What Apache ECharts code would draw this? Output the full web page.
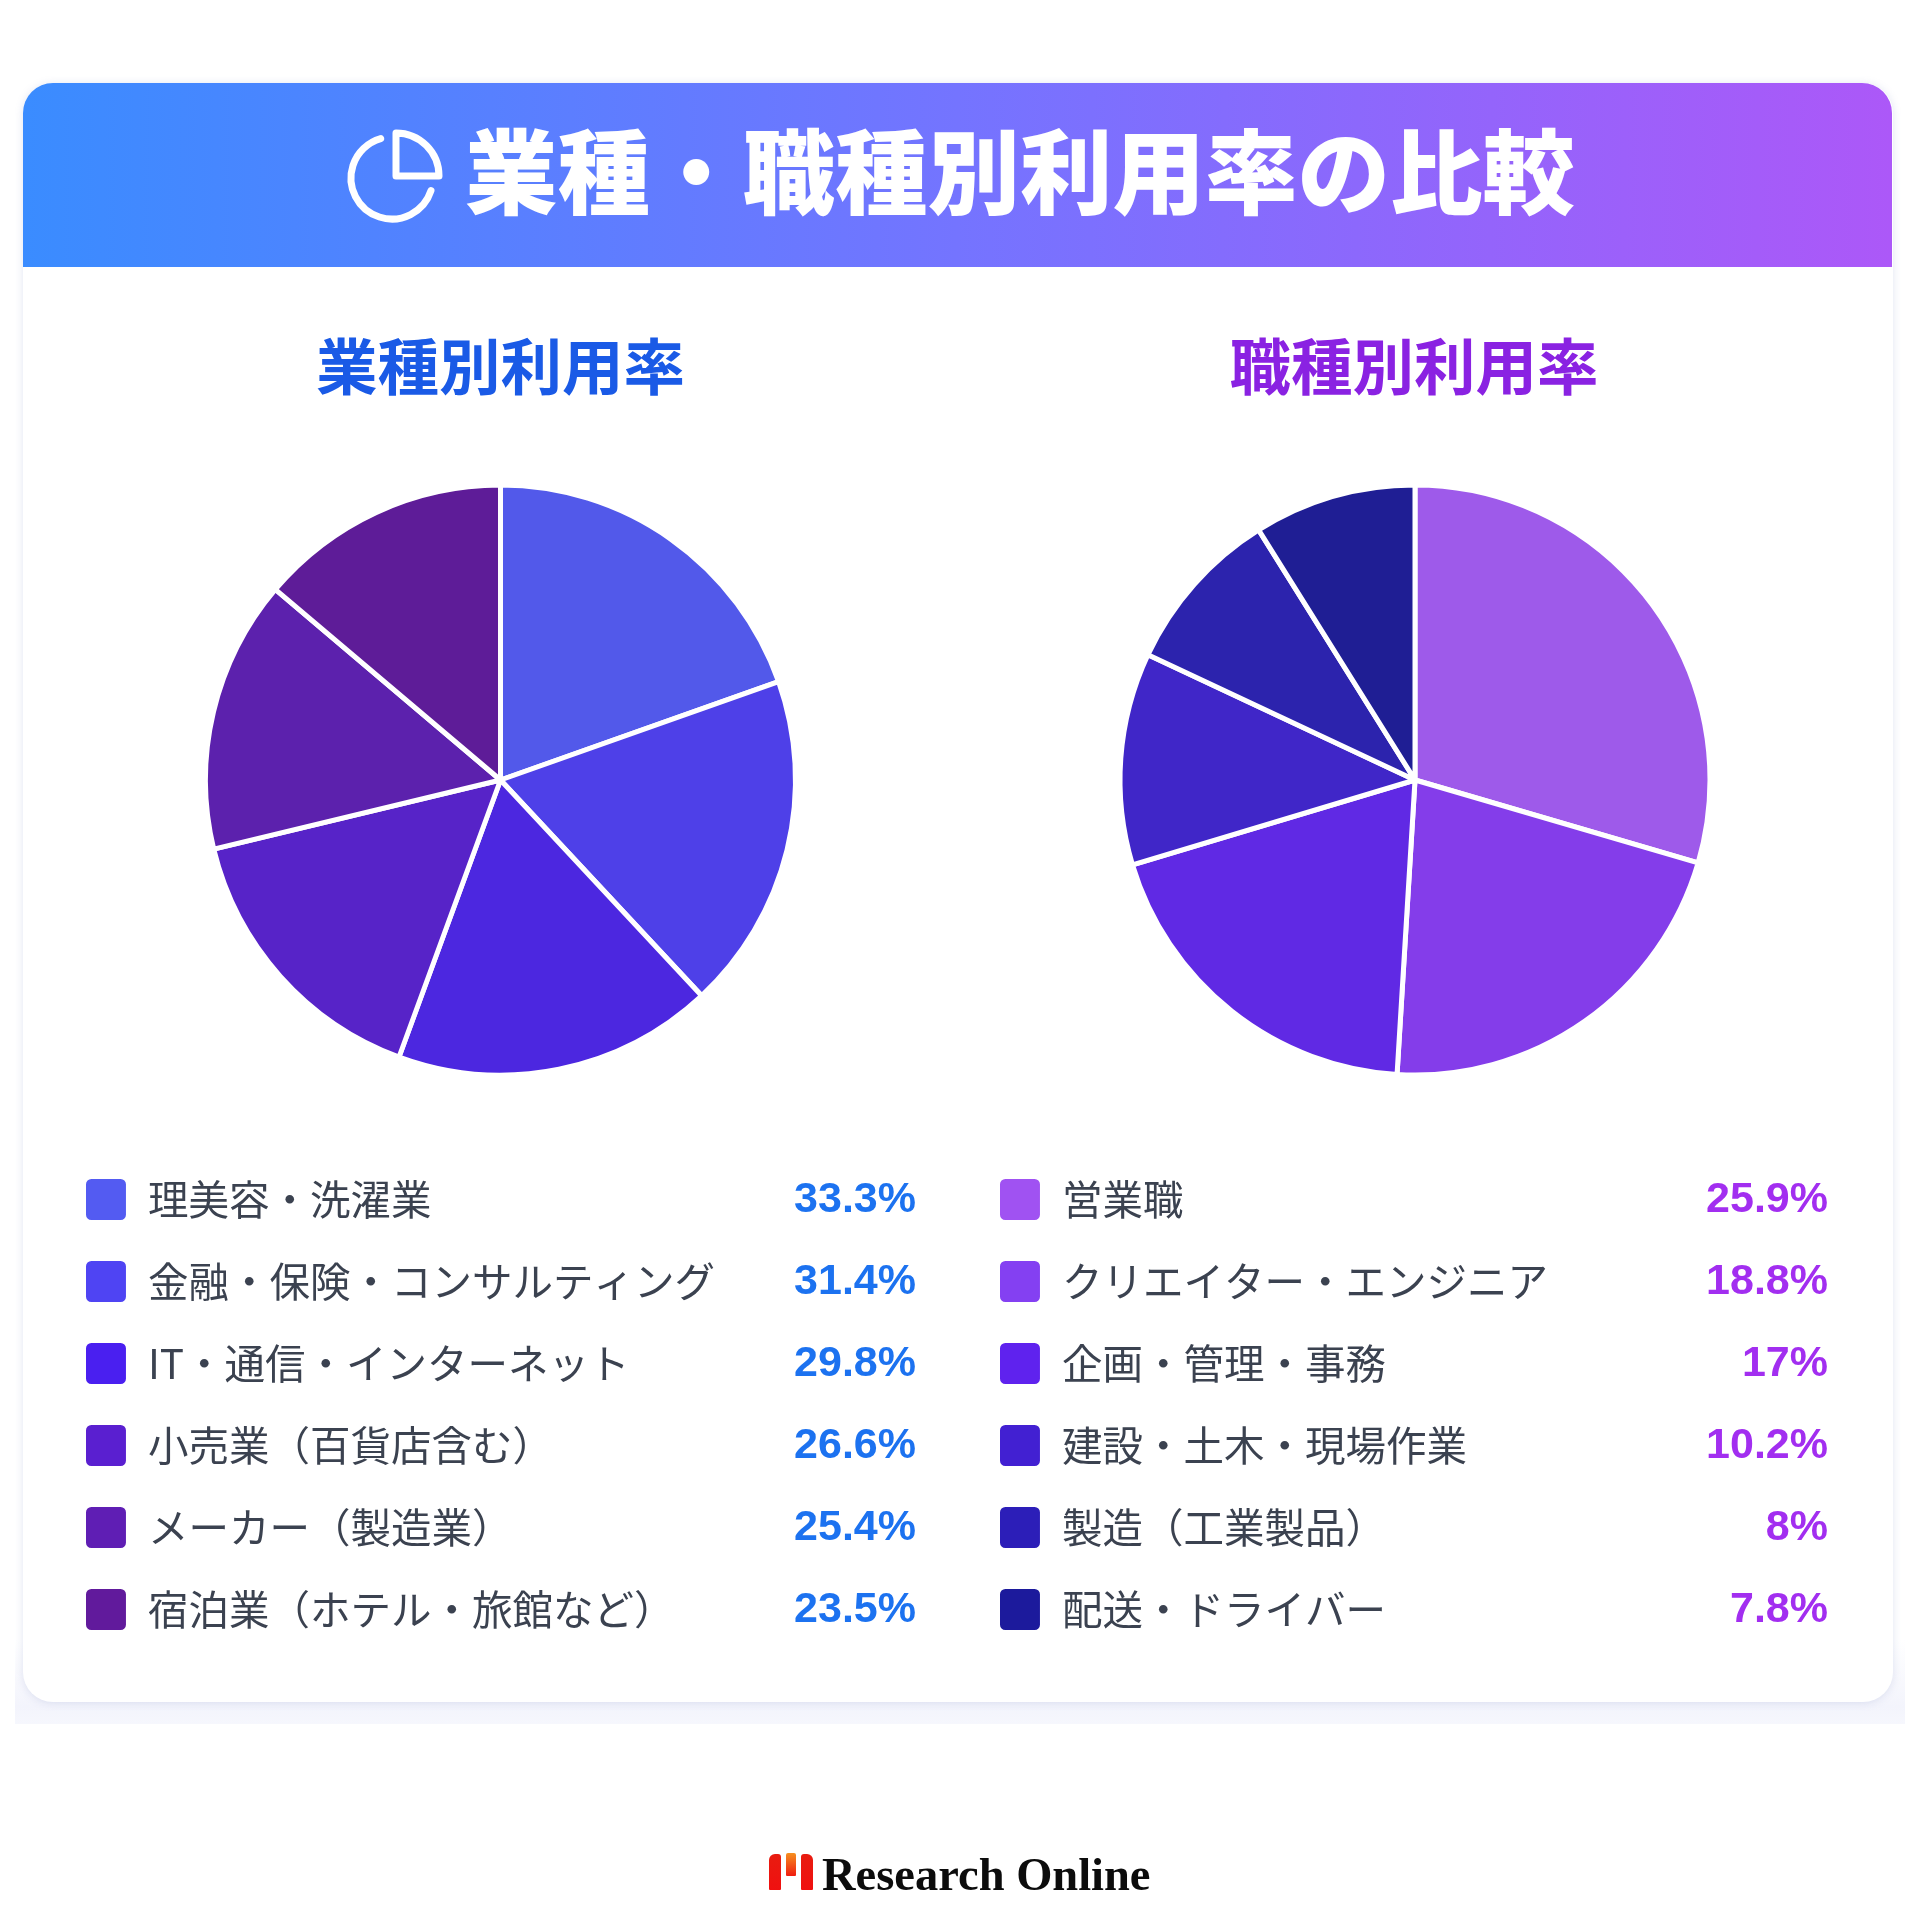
<!DOCTYPE html>
<html lang="ja">
<head>
<meta charset="utf-8">
<style>html,body{margin:0;padding:0;background:#fff}#c{width:1920px;height:1920px}</style>
<script src="https://cdn.jsdelivr.net/npm/echarts@6/dist/echarts.min.js"></script>
</head>
<body>
<div id="c"></div>
<script>
const titleText = '業種・職種別利用率の比較';
const industryTitle = '業種別利用率';
const jobTitle = '職種別利用率';
const brandText = 'Research Online';

const industryNames = ['理美容・洗濯業','金融・保険・コンサルティング','IT・通信・インターネット','小売業\uFF08百貨店含む\uFF09','メーカー\uFF08製造業\uFF09','宿泊業\uFF08ホテル・旅館など\uFF09'];
const industryValues = [33.3, 31.4, 29.8, 26.6, 25.4, 23.5];
const industryColors = ['#5259ea','#4e40e8','#4c27e0','#5723c8','#5c21ad','#5e1c98'];
const industrySwatches = ['#535bf2','#4f44f3','#4a1ff0','#5a1fd0','#5f1eb4','#611a9c'];

const jobNames = ['営業職','クリエイター・エンジニア','企画・管理・事務','建設・土木・現場作業','製造\uFF08工業製品\uFF09','配送・ドライバー'];
const jobValues = [25.9, 18.8, 17, 10.2, 8, 7.8];
const jobColors = ['#9e5aea','#843dea','#6029e4','#4026c8','#2c23ad','#1f1e94'];
const jobSwatches = ['#a052f2','#8440f2','#5f22ee','#4220d2','#2c1eb8','#1c1a9c'];

const cjk = '"Noto Sans CJK JP","Noto Sans CJK SC",sans-serif';
const swatchIcon = 'path://M6 0H34A6 6 0 0 1 40 6V35A6 6 0 0 1 34 41H6A6 6 0 0 1 0 35V6A6 6 0 0 1 6 0Z';
const rowPitch = 82;
const firstRowCenter = 1200;

function pie(name, names, values, colors, cx) {
  return {
    type: 'pie', name, center: [cx, 780], radius: [0, 295], startAngle: 90, clockwise: true,
    silent: true, animation: false, label: {show: false}, labelLine: {show: false},
    itemStyle: {borderColor: '#fff', borderWidth: 5},
    data: names.map((n, i) => ({name: n, value: values[i], itemStyle: {color: colors[i]}}))
  };
}
function legend(names, colors, left) {
  return {
    left, top: 1173, orient: 'vertical', selectedMode: false, padding: 0,
    itemWidth: 42, itemHeight: 43, itemGap: 29, icon: swatchIcon,
    textStyle: {fontFamily: cjk, fontSize: 40.5, color: '#3b4250', lineHeight: 41, padding: [0, 0, 12, 16]},
    data: names.map((n, i) => ({name: n, icon: swatchIcon, itemStyle: {color: colors[i]}}))
  };
}
function valueTexts(values, x, color) {
  return values.map((v, i) => ({
    type: 'text', z: 20, x, y: firstRowCenter + i * rowPitch,
    style: {text: v + '%', fill: color, textAlign: 'right', textVerticalAlign: 'middle',
      font: 'bold 43px "Liberation Sans",Arial,sans-serif'}
  }));
}

const chart = echarts.init(document.getElementById('c'), null, {renderer: 'canvas'});
chart.setOption({
  animation: false,
  backgroundColor: '#ffffff',
  legend: [legend(industryNames, industrySwatches, 84), legend(jobNames, jobSwatches, 998)],
  series: [
    pie('業種別利用率', industryNames, industryValues, industryColors, 500.5),
    pie('職種別利用率', jobNames, jobValues, jobColors, 1415)
  ],
  graphic: {elements: [
    // lower shadow band
    {type: 'rect', z: -10, silent: true, shape: {x: 15, y: 1640, width: 1890, height: 84},
     style: {fill: {type: 'linear', x: 0, y: 0, x2: 0, y2: 1, colorStops: [
       {offset: 0, color: '#ffffff'}, {offset: 0.8, color: '#f3f4fc'}, {offset: 1, color: '#f6f7fd'}]}}},
    // card
    {type: 'rect', z: -9, silent: true, shape: {x: 23, y: 83, width: 1870, height: 1619, r: 30},
     style: {fill: '#ffffff', shadowBlur: 8, shadowColor: 'rgba(120,130,190,0.22)', shadowOffsetY: 1}},
    // header
    {type: 'rect', z: -8, silent: true, shape: {x: 23, y: 83, width: 1869, height: 184, r: [30, 30, 0, 0]},
     style: {fill: {type: 'linear', x: 0, y: 0, x2: 1, y2: 0.1, colorStops: [
       {offset: 0, color: '#3a8cff'}, {offset: 0.5, color: '#7474ff'}, {offset: 1, color: '#ac58f8'}]}}},
    // header icon
    {type: 'arc', z: 20, silent: true, shape: {cx: 392, cy: 178, r: 41, startAngle: 18 * Math.PI / 180, endAngle: 254 * Math.PI / 180, clockwise: true},
     style: {fill: null, stroke: '#fff', lineWidth: 7, lineCap: 'round'}},
    {type: 'sector', z: 20, silent: true, shape: {cx: 396, cy: 176, r: 43, r0: 0, startAngle: -Math.PI / 2, endAngle: 0, clockwise: true},
     style: {fill: null, stroke: '#fff', lineWidth: 7, lineJoin: 'round'}},
    // titles
    {type: 'text', z: 20, silent: true, x: 1020, y: 172,
     style: {text: titleText, fill: '#fff', textAlign: 'center', textVerticalAlign: 'middle', font: '900 92.5px ' + cjk}},
    {type: 'text', z: 20, silent: true, x: 500.5, y: 367,
     style: {text: industryTitle, fill: '#1a5ae6', textAlign: 'center', textVerticalAlign: 'middle', font: 'bold 61.5px ' + cjk}},
    {type: 'text', z: 20, silent: true, x: 1414, y: 367,
     style: {text: jobTitle, fill: '#8a22e2', textAlign: 'center', textVerticalAlign: 'middle', font: 'bold 61.5px ' + cjk}},
    // values
    ...valueTexts(industryValues, 916, '#1c72f0'),
    ...valueTexts(jobValues, 1828, '#a22ef0'),
    // brand mark
    {type: 'rect', z: 20, silent: true, shape: {x: 769, y: 1854, width: 12, height: 36, r: [6, 3, 1, 1]},
     style: {fill: {type: 'linear', x: 0, y: 0, x2: 0, y2: 1, colorStops: [{offset: 0, color: '#e81c10'}, {offset: 1, color: '#f01010'}]}}},
    {type: 'rect', z: 20, silent: true, shape: {x: 786, y: 1853, width: 10, height: 23, r: [2, 2, 1, 1]},
     style: {fill: {type: 'linear', x: 0, y: 0, x2: 0, y2: 1, colorStops: [{offset: 0, color: '#f59020'}, {offset: 1, color: '#f01c10'}]}}},
    {type: 'rect', z: 20, silent: true, shape: {x: 801, y: 1854, width: 12, height: 36, r: [3, 6, 1, 1]},
     style: {fill: {type: 'linear', x: 0, y: 0, x2: 0, y2: 1, colorStops: [{offset: 0, color: '#e81c10'}, {offset: 1, color: '#f01010'}]}}},
    {type: 'text', z: 20, silent: true, x: 822, y: 1878,
     style: {text: brandText, fill: '#0c0c0c', textAlign: 'left', textVerticalAlign: 'middle', font: 'bold 46.5px "Liberation Serif",serif'}}
  ]}
});
</script>
</body>
</html>
